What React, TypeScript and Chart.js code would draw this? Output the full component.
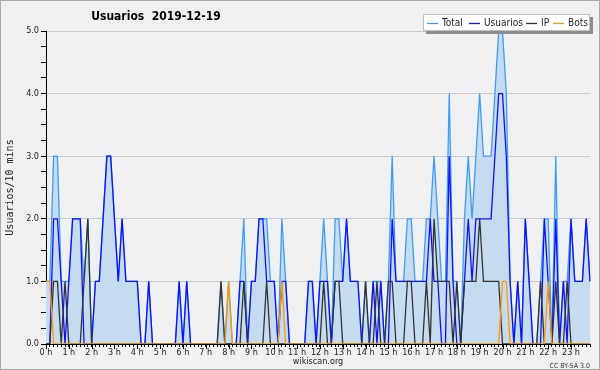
import { useEffect, useRef } from 'react';
import { Chart, registerables } from 'chart.js';

Chart.register(...registerables);

const HOURS = ['0 h', '1 h', '2 h', '3 h', '4 h', '5 h', '6 h', '7 h', '8 h', '9 h', '10 h', '11 h',
  '12 h', '13 h', '14 h', '15 h', '16 h', '17 h', '18 h', '19 h', '20 h', '21 h', '22 h', '23 h'];

const TOTAL = [
  1, 1, 3, 3, 1, 1, 1, 2, 2, 2, 1, 2, 0, 1, 1, 2, 3, 3, 2, 1, 2, 1, 1, 1,
  1, 0, 0, 1, 0, 0, 0, 0, 0, 0, 0, 1, 0, 1, 0, 0, 0, 0, 0, 0, 0, 0, 1, 0,
  1, 0, 0, 1, 2, 0, 1, 1, 2, 2, 2, 1, 1, 0, 2, 1, 0, 0, 0, 0, 0, 1, 1, 0,
  1, 2, 1, 0, 2, 2, 1, 2, 1, 1, 1, 0, 1, 0, 1, 1, 1, 0, 1, 3, 1, 1, 1, 2,
  2, 1, 1, 1, 2, 2, 3, 2, 1, 1, 4, 1, 1, 0, 2, 3, 2, 3, 4, 3, 3, 3, 4, 5,
  5, 4, 1, 0, 1, 0, 2, 1, 0, 0, 1, 2, 2, 0, 3, 0, 1, 1, 2, 1, 1, 1, 2, 1,
];

const USUARIOS = [
  0, 0, 2, 2, 1, 0, 1, 2, 2, 2, 0, 0, 0, 1, 1, 2, 3, 3, 2, 1, 2, 1, 1, 1,
  1, 0, 0, 1, 0, 0, 0, 0, 0, 0, 0, 1, 0, 1, 0, 0, 0, 0, 0, 0, 0, 0, 0, 0,
  0, 0, 0, 1, 1, 0, 1, 1, 2, 2, 1, 1, 1, 0, 1, 1, 0, 0, 0, 0, 0, 1, 1, 0,
  1, 1, 1, 0, 1, 1, 1, 2, 1, 1, 1, 0, 0, 0, 1, 0, 1, 0, 0, 2, 1, 1, 1, 1,
  1, 1, 1, 1, 1, 2, 1, 1, 0, 0, 3, 1, 0, 0, 1, 2, 1, 2, 2, 2, 2, 2, 3, 4,
  4, 3, 1, 0, 1, 0, 2, 1, 0, 0, 0, 2, 1, 0, 2, 0, 1, 0, 2, 1, 1, 1, 2, 1,
];

const IP = [
  0, 0, 1, 1, 0, 1, 0, 0, 0, 0, 1, 2, 0, 0, 0, 0, 0, 0, 0, 0, 0, 0, 0, 0,
  0, 0, 0, 0, 0, 0, 0, 0, 0, 0, 0, 0, 0, 0, 0, 0, 0, 0, 0, 0, 0, 0, 1, 0,
  0, 0, 0, 0, 1, 0, 0, 0, 0, 0, 1, 0, 0, 0, 0, 0, 0, 0, 0, 0, 0, 0, 0, 0,
  0, 1, 0, 0, 1, 1, 0, 0, 0, 0, 0, 0, 1, 0, 0, 1, 0, 0, 1, 1, 0, 0, 0, 1,
  1, 0, 0, 0, 1, 0, 2, 1, 1, 1, 1, 0, 1, 0, 1, 1, 1, 1, 2, 1, 1, 1, 1, 1,
  0, 0, 0, 0, 0, 0, 0, 0, 0, 0, 1, 0, 0, 0, 1, 0, 0, 1, 0, 0, 0, 0, 0, 0,
];

const BOTS = [
  1, 1, 0, 0, 0, 0, 0, 0, 0, 0, 0, 0, 0, 0, 0, 0, 0, 0, 0, 0, 0, 0, 0, 0,
  0, 0, 0, 0, 0, 0, 0, 0, 0, 0, 0, 0, 0, 0, 0, 0, 0, 0, 0, 0, 0, 0, 0, 0,
  1, 0, 0, 0, 0, 0, 0, 0, 0, 0, 0, 0, 0, 0, 1, 0, 0, 0, 0, 0, 0, 0, 0, 0,
  0, 0, 0, 0, 0, 0, 0, 0, 0, 0, 0, 0, 0, 0, 0, 0, 0, 0, 0, 0, 0, 0, 0, 0,
  0, 0, 0, 0, 0, 0, 0, 0, 0, 0, 0, 0, 0, 0, 0, 0, 0, 0, 0, 0, 0, 0, 0, 0,
  1, 1, 0, 0, 0, 0, 0, 0, 0, 0, 0, 0, 1, 0, 0, 0, 0, 0, 0, 0, 0, 0, 0, 0,
];

const SERIES_NAMES = ['Total', 'Usuarios', 'IP', 'Bots'];
const SERIES_COLORS = ['#3d9cf5', '#1010ff', '#333333', '#ff9900'];
const TITLE = 'Usuarios  2019-12-19';
const Y_TITLE = 'Usuarios/10 mins';
const X_TITLE = 'wikiscan.org';
const LICENSE = 'CC BY-SA 3.0';

const FONT = "'DejaVu Sans Condensed', 'DejaVu Sans', sans-serif";

export default function App() {
  const ref = useRef<HTMLCanvasElement>(null);

  useEffect(() => {
    document.body.style.margin = '0';
    const canvas = ref.current;
    if (!canvas) return;
    const labels = TOTAL.map((_, i) => (i % 6 === 0 ? HOURS[i / 6] : ''));

    const decor = {
      id: 'decor',
      beforeDraw(chart: any) {
        const { ctx, chartArea: a, width, height } = chart;
        ctx.save();
        ctx.fillStyle = '#f0f0f0';
        ctx.fillRect(0, 0, width, height);
        ctx.fillStyle = '#eff0f2';
        ctx.fillRect(a.left, a.top, a.right - a.left, a.bottom - a.top);
        ctx.restore();
      },
      afterDraw(chart: any) {
        const { ctx, width, height, chartArea: a } = chart;
        const xs = chart.scales.x;
        ctx.save();
        // hour ticks (longer)
        ctx.strokeStyle = '#000';
        ctx.lineWidth = 1;
        for (let h = 0; h < HOURS.length; h++) {
          const px = Math.round(xs.getPixelForValue(h * 6)) + 0.5;
          ctx.beginPath();
          ctx.moveTo(px, a.bottom);
          ctx.lineTo(px, a.bottom + 5);
          ctx.stroke();
        }
        // frame
        ctx.strokeStyle = '#a8a8a8';
        ctx.strokeRect(0.5, 0.5, width - 1, height - 1);
        // title
        ctx.fillStyle = '#000';
        ctx.font = `bold 12px ${FONT}`;
        ctx.textAlign = 'center';
        ctx.textBaseline = 'middle';
        ctx.fillText(TITLE, 156, 17);
        // license
        ctx.font = `7px ${FONT}`;
        ctx.fillStyle = '#333';
        ctx.textAlign = 'right';
        ctx.fillText(LICENSE, 590, 366);
        // legend box
        const bx = 423, by = 14, bw = 167, bh = 17;
        ctx.fillStyle = '#8c8c8c';
        ctx.fillRect(bx + 3, by + 3, bw, bh);
        ctx.fillStyle = '#ffffff';
        ctx.fillRect(bx, by, bw, bh);
        ctx.strokeStyle = '#c0c0c0';
        ctx.strokeRect(bx + 0.5, by + 0.5, bw - 1, bh - 1);
        const lineX = [427, 469, 526, 553];
        ctx.font = `10px ${FONT}`;
        ctx.textAlign = 'left';
        ctx.textBaseline = 'middle';
        const cy = by + bh / 2 + 0.5;
        SERIES_NAMES.forEach((name, k) => {
          ctx.strokeStyle = SERIES_COLORS[k];
          ctx.lineWidth = 1.3;
          ctx.beginPath();
          ctx.moveTo(lineX[k], Math.round(cy) + 0.5);
          ctx.lineTo(lineX[k] + 11, Math.round(cy) + 0.5);
          ctx.stroke();
          ctx.fillStyle = '#222';
          ctx.fillText(name, lineX[k] + 15, cy);
        });
        ctx.restore();
      },
    };

    const chart = new Chart(canvas, {
      type: 'line',
      data: {
        labels,
        datasets: [
          {
            label: SERIES_NAMES[0], data: TOTAL, borderColor: SERIES_COLORS[0],
            backgroundColor: '#c5dcf0', fill: 'origin', order: 4,
          },
          { label: SERIES_NAMES[1], data: USUARIOS, borderColor: SERIES_COLORS[1], fill: false, order: 3 },
          { label: SERIES_NAMES[2], data: IP, borderColor: SERIES_COLORS[2], fill: false, order: 2 },
          { label: SERIES_NAMES[3], data: BOTS, borderColor: SERIES_COLORS[3], fill: false, order: 1 },
        ],
      },
      options: {
        animation: false,
        responsive: false,
        devicePixelRatio: 1,
        layout: { padding: { top: 31, right: 10, bottom: 0, left: 0 } },
        elements: {
          line: { borderWidth: 1.3, tension: 0 },
          point: { radius: 0, hoverRadius: 0 },
        },
        plugins: {
          legend: { display: false },
          title: { display: false },
          tooltip: { enabled: false },
        },
        scales: {
          x: {
            type: 'category',
            offset: false,
            afterFit: (s: any) => { s.height = 26; },
            border: { display: true, color: '#000', width: 1 },
            grid: { display: true, drawOnChartArea: false, drawTicks: true, tickLength: 3, tickColor: '#000' },
            ticks: {
              autoSkip: false, maxRotation: 0, minRotation: 0, padding: 0,
              color: '#222', font: { family: FONT, size: 9 },
            },
            title: {
              display: true, text: X_TITLE, color: '#222',
              font: { family: FONT, size: 9 }, padding: { top: 0, bottom: 3 },
            },
          },
          y: {
            min: 0, max: 5,
            afterFit: (s: any) => { s.width = 46; },
            border: { display: true, color: '#000', width: 1 },
            grid: {
              color: (c: any) => (c.tick && Number.isInteger(c.tick.value) ? '#c8c8c8' : 'rgba(0,0,0,0)'),
              tickColor: '#000', tickLength: 5, drawTicks: true,
            },
            ticks: {
              stepSize: 0.25, autoSkip: false, maxTicksLimit: 40, padding: 2,
              color: '#222', font: { family: FONT, size: 9 },
              callback: (v: any) => (Number.isInteger(Number(v)) ? Number(v).toFixed(1) : ''),
            },
            title: {
              display: true, text: Y_TITLE, color: '#222',
              font: { family: "'DejaVu Sans Mono', monospace", size: 10 }, padding: { top: 4, bottom: 0 },
            },
          },
        },
      },
      plugins: [decor],
    });

    return () => chart.destroy();
  }, []);

  return (
    <div style={{ width: 600, height: 370 }}>
      <canvas ref={ref} width={600} height={370} style={{ display: 'block', width: 600, height: 370 }} />
    </div>
  );
}
